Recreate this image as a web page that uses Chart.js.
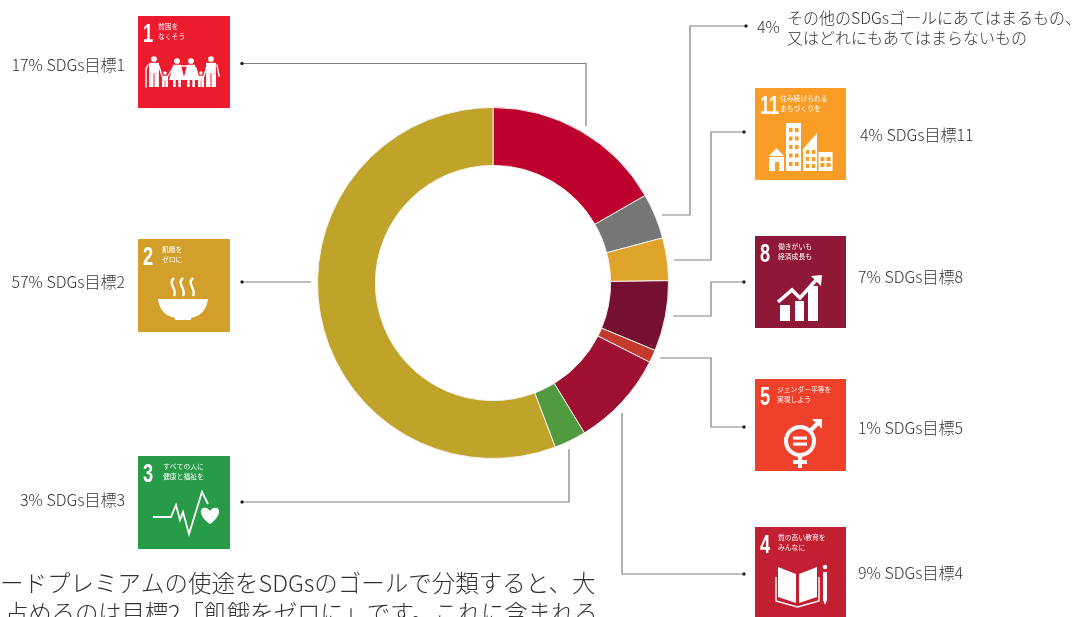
<!DOCTYPE html>
<html lang="ja">
<head>
<meta charset="utf-8">
<title>SDGs</title>
<script src="https://cdn.jsdelivr.net/npm/chart.js@4"></script>
<style>
    html, body { margin: 0; padding: 0; background: #fff; overflow: hidden; }
    canvas { display: block; }
</style>
</head>
<body>
<canvas id="myChart" width="1074" height="617"></canvas>
<script>
// data, clockwise from 12 o'clock
const categories = ['SDGs目標1', 'その他', 'SDGs目標11', 'SDGs目標8', 'SDGs目標5', 'SDGs目標4', 'SDGs目標3', 'SDGs目標2'];
const percentLabels = ['17%', '4%', '4%', '7%', '1%', '9%', '3%', '57%'];
// slice sizes as measured on the ring, the printed percentages are rounded
const values = [17, 4.25, 4, 6.6, 1.2, 9, 3, 56.8];
const otherLabelLines = ['その他のSDGsゴールにあてはまるもの、', '又はどれにもあてはまらないもの'];
const paragraphLines = ['ードプレミアムの使途をSDGsのゴールで分類すると、大', '占めるのは目標2「飢餓をゼロに」です。これに含まれる'];

const ringColors = ['#bd002e', '#767676', '#dea329', '#751032', '#c43b2d', '#9e0f31', '#529a3f', '#c0a42a'];
const FONT = '"Noto Sans CJK JP", "Noto Sans", sans-serif';
const TEXT_COLOR = '#333333';
const LINE_COLOR = '#808080';

// one entry per slice, same order as categories
const callouts = [
    { textX: 125, textY: 65, align: 'right', line: [[242, 63.5], [586, 63.5], [586, 126]], icon: { x: 138, y: 16, w: 92, h: 92, color: '#ed1b2e', num: '1', titleX: 20, title: ['貧困を', 'なくそう'], draw: drawPeople } },
    { textX: 757, textY: 27, align: 'left', line: [[746, 26], [690, 26], [690, 215], [662, 215]] },
    { textX: 860, textY: 135, align: 'left', line: [[744, 132], [711, 132], [711, 260], [674, 260]], icon: { x: 755, y: 88, w: 91, h: 92, color: '#f99d26', num: '11', titleX: 25, title: ['住み続けられる', 'まちづくりを'], draw: drawCity } },
    { textX: 858, textY: 277, align: 'left', line: [[744, 282], [711, 282], [711, 316], [673, 316]], icon: { x: 755, y: 236, w: 91, h: 92, color: '#8f1838', num: '8', titleX: 23, title: ['働きがいも', '経済成長も'], draw: drawGrowth } },
    { textX: 858, textY: 428, align: 'left', line: [[744, 427], [711, 427], [711, 358], [660, 358]], icon: { x: 755, y: 379, w: 91, h: 92, color: '#ef402b', num: '5', titleX: 22, title: ['ジェンダー平等を', '実現しよう'], draw: drawGender } },
    { textX: 858, textY: 573, align: 'left', line: [[744, 574], [622, 574], [622, 413]], icon: { x: 755, y: 527, w: 91, h: 92, color: '#c31f33', num: '4', titleX: 23, title: ['質の高い教育を', 'みんなに'], draw: drawBook } },
    { textX: 125, textY: 500, align: 'right', line: [[242, 502], [569, 502], [569, 449]], icon: { x: 138, y: 456, w: 92, h: 93, color: '#279b48', num: '3', titleX: 25, title: ['すべての人に', '健康と福祉を'], draw: drawHeartbeat } },
    { textX: 125, textY: 282, align: 'right', line: [[242, 282], [311, 282]], icon: { x: 138, y: 239, w: 92, h: 93, color: '#d19f2a', num: '2', titleX: 24, title: ['飢餓を', 'ゼロに'], draw: drawBowl } },
];

function strokeLine(c, pts, width) {
    c.lineWidth = width;
    c.beginPath();
    pts.forEach((p, i) => i ? c.lineTo(p[0], p[1]) : c.moveTo(p[0], p[1]));
    c.stroke();
}

function drawPerson(c, x, headY, footY, size, dress) {
    const headR = size * 0.22;
    c.beginPath();
    c.arc(x, headY, headR, 0, Math.PI * 2);
    c.fill();
    const top = headY + headR + 1;
    const mid = top + (footY - top) * 0.45;
    if (dress) {
        c.beginPath();
        c.moveTo(x - size * 0.3, top);
        c.lineTo(x + size * 0.3, top);
        c.lineTo(x + size * 0.6, top + (footY - top) * 0.68);
        c.lineTo(x - size * 0.6, top + (footY - top) * 0.68);
        c.fill();
        c.fillRect(x - size * 0.3, top + (footY - top) * 0.68, size * 0.2, (footY - top) * 0.32);
        c.fillRect(x + size * 0.1, top + (footY - top) * 0.68, size * 0.2, (footY - top) * 0.32);
    } else {
        c.fillRect(x - size * 0.38, top, size * 0.76, mid - top);
        c.fillRect(x - size * 0.38, mid, size * 0.34, footY - mid);
        c.fillRect(x + size * 0.04, mid, size * 0.34, footY - mid);
    }
}

function drawPeople(c) {
    drawPerson(c, 16, 43, 71, 13, false);
    drawPerson(c, 27, 57, 71, 8, false);
    drawPerson(c, 39, 45, 71, 13, true);
    drawPerson(c, 53, 45, 71, 13, true);
    drawPerson(c, 63, 57, 71, 8, false);
    drawPerson(c, 73, 43, 71, 13, false);
    c.lineCap = 'round';
    strokeLine(c, [[10, 49], [8, 53], [8, 71]], 1.4);
    strokeLine(c, [[21, 50], [24, 60]], 1.4);
    strokeLine(c, [[30, 60], [35, 52]], 1.4);
    strokeLine(c, [[43, 50], [50, 50]], 1.4);
    strokeLine(c, [[58, 52], [60, 60]], 1.4);
    strokeLine(c, [[66, 60], [69, 50]], 1.4);
    strokeLine(c, [[79, 49], [81, 60]], 1.4);
    c.lineCap = 'butt';
}

function drawBowl(c) {
    c.beginPath();
    c.moveTo(20, 60);
    c.lineTo(70, 60);
    c.quadraticCurveTo(68, 76, 53, 79);
    c.lineTo(53, 81);
    c.lineTo(37, 81);
    c.lineTo(37, 79);
    c.quadraticCurveTo(22, 76, 20, 60);
    c.fill();
    [34, 43, 53].forEach(x => {
        c.lineWidth = 2.4;
        c.beginPath();
        c.moveTo(x + 2, 39);
        c.bezierCurveTo(x - 5, 45, x + 6, 50, x + 2, 57);
        c.stroke();
    });
}

function drawHeartbeat(c) {
    strokeLine(c, [[15, 61], [33, 61], [38, 49], [42, 64], [45, 56], [51, 78], [64, 36], [70, 48]], 1.8);
    c.beginPath();
    c.moveTo(72, 68);
    c.bezierCurveTo(58, 58, 63, 50, 68, 52);
    c.bezierCurveTo(70, 52, 72, 55, 72, 55);
    c.bezierCurveTo(72, 55, 74, 52, 76, 52);
    c.bezierCurveTo(81, 50, 86, 58, 72, 68);
    c.fill();
}

function drawBook(c) {
    c.beginPath();
    c.moveTo(23, 40); c.lineTo(41, 47); c.lineTo(41, 76); c.lineTo(23, 70);
    c.fill();
    c.beginPath();
    c.moveTo(62, 40); c.lineTo(44, 47); c.lineTo(44, 76); c.lineTo(62, 70);
    c.fill();
    strokeLine(c, [[21, 50], [21, 74], [42.5, 80], [64, 74], [64, 50]], 1.4);
    c.beginPath();
    c.arc(70, 40, 2.2, 0, Math.PI * 2);
    c.fill();
    c.beginPath();
    c.moveTo(68, 45); c.lineTo(72, 45); c.lineTo(72, 73); c.lineTo(70, 78); c.lineTo(68, 73);
    c.fill();
}

function drawGender(c) {
    c.lineWidth = 4;
    c.beginPath();
    c.arc(45, 62, 14, 0, Math.PI * 2);
    c.stroke();
    strokeLine(c, [[45, 76], [45, 89]], 4);
    strokeLine(c, [[38, 83], [52, 83]], 4);
    strokeLine(c, [[55, 52], [65, 42]], 4);
    c.beginPath();
    c.moveTo(57, 40); c.lineTo(67, 40); c.lineTo(67, 50);
    c.fill();
    c.fillRect(38, 57.5, 14, 3.2);
    c.fillRect(38, 63.5, 14, 3.2);
}

function drawGrowth(c) {
    c.fillRect(25, 69, 10, 16);
    c.fillRect(40, 65, 9, 20);
    c.fillRect(53, 50, 10, 35);
    strokeLine(c, [[23, 66], [37, 54], [45, 62], [62, 43]], 3.5);
    c.beginPath();
    c.moveTo(56, 40); c.lineTo(67, 39); c.lineTo(66, 50);
    c.fill();
}

function drawCity(c, color) {
    c.beginPath();
    c.moveTo(14, 68); c.lineTo(21.5, 60); c.lineTo(29, 68);
    c.fill();
    c.fillRect(14, 69, 15, 14);
    c.fillRect(31, 35, 15, 48);
    c.beginPath();
    c.moveTo(48, 83); c.lineTo(48, 61); c.lineTo(62, 45); c.lineTo(62, 83);
    c.fill();
    c.fillRect(63.5, 64, 14, 19);
    c.fillStyle = color;
    c.fillRect(20, 74, 4, 9);
    for (let row = 0; row < 5; row++) {
        c.fillRect(34, 40 + row * 8.5, 3.6, 4);
        c.fillRect(40, 40 + row * 8.5, 3.6, 4);
    }
    for (let row = 0; row < 3; row++) {
        c.fillRect(51, 62 + row * 7, 3.2, 4);
        c.fillRect(57, 62 + row * 7, 3.2, 4);
    }
    c.fillRect(65.5, 69, 4, 4);
    c.fillRect(71.5, 69, 4, 4);
    c.fillRect(65.5, 75, 4, 4);
    c.fillRect(71.5, 75, 4, 4);
    c.fillStyle = '#fff';
}

function drawIcon(c, icon) {
    c.save();
    c.translate(icon.x, icon.y);
    c.fillStyle = icon.color;
    c.fillRect(0, 0, icon.w, icon.h);
    c.fillStyle = '#fff';
    c.strokeStyle = '#fff';

    c.textAlign = 'left';
    c.textBaseline = 'alphabetic';
    // the goal numbers are a tall condensed face, squeeze a bold one
    c.save();
    c.translate(5, 26);
    c.scale(0.7, 1);
    c.font = 'bold 26px "Liberation Sans", sans-serif';
    c.fillText(icon.num, 0, 0);
    c.restore();

    c.font = '6.8px ' + FONT;
    c.fillText(icon.title[0], icon.titleX, 13);
    c.fillText(icon.title[1], icon.titleX, 23);

    icon.draw(c, icon.color);
    c.restore();
}

const calloutPlugin = {
    id: 'callouts',
    afterDraw(chart) {
        const c = chart.ctx;
        c.save();
        callouts.forEach((item, i) => {
            c.strokeStyle = LINE_COLOR;
            strokeLine(c, item.line, 1.2);
            c.fillStyle = '#222';
            c.beginPath();
            c.arc(item.line[0][0], item.line[0][1], 1.7, 0, Math.PI * 2);
            c.fill();

            c.fillStyle = TEXT_COLOR;
            c.font = '300 16px ' + FONT;
            c.textAlign = item.align;
            c.textBaseline = 'middle';
            if (categories[i] === 'その他') {
                c.fillText(percentLabels[i], item.textX, item.textY);
                c.textAlign = 'left';
                c.fillText(otherLabelLines[0], 787, 18);
                c.fillText(otherLabelLines[1], 787, 38);
            } else {
                c.fillText(percentLabels[i] + ' ' + categories[i], item.textX, item.textY);
            }
            if (item.icon) drawIcon(c, item.icon);
        });

        c.fillStyle = '#333';
        c.font = '300 23.5px ' + FONT;
        c.textAlign = 'left';
        c.textBaseline = 'alphabetic';
        c.fillText(paragraphLines[0], 0, 592);
        c.letterSpacing = '-0.2px';
        c.fillText(paragraphLines[1], 5, 622);
        c.letterSpacing = '0px';
        c.restore();
    }
};

const ctx = document.getElementById('myChart');
const myChart = new Chart(ctx, {
    type: 'doughnut',
    data: {
        labels: categories,
        datasets: [{
            data: values,
            backgroundColor: ringColors,
            borderColor: '#f4f0ee',
            borderWidth: 1,
            hoverOffset: 0,
        }]
    },
    options: {
        responsive: false,
        animation: false,
        cutout: '67%',
        layout: { padding: { left: 317, right: 405, top: 107, bottom: 158 } },
        plugins: {
            legend: { display: false },
            tooltip: { enabled: false },
        }
    },
    plugins: [calloutPlugin]
});
</script>
</body>
</html>
